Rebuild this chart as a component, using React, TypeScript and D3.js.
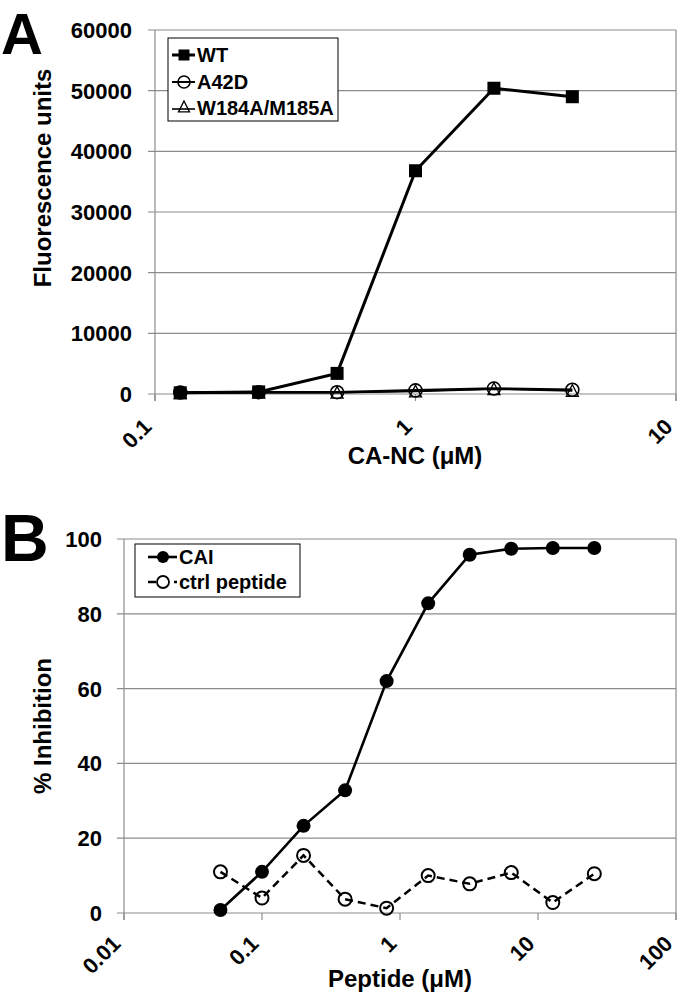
import React from "react";
import * as d3 from "d3";

// Panel A data
const aConc = [0.125, 0.25, 0.5, 1, 2, 4];
const wtVals = [200, 350, 3400, 36800, 50400, 49000];
const a42dVals = [250, 300, 300, 600, 900, 700];
const w184Vals = [150, 200, 200, 400, 800, 500];
const aYTicks = [0, 10000, 20000, 30000, 40000, 50000, 60000];
const aXTicks = [0.1, 1, 10];

// Panel B data
const bConc = [0.05, 0.1, 0.2, 0.4, 0.8, 1.6, 3.2, 6.4, 12.8, 25.6];
const caiVals = [0.8, 11, 23.3, 32.8, 62, 82.8, 95.8, 97.4, 97.6, 97.6];
const ctrlVals = [11, 4, 15.4, 3.7, 1.3, 10, 7.8, 10.8, 2.8, 10.5];
const bYTicks = [0, 20, 40, 60, 80, 100];
const bXTicks = [0.01, 0.1, 1, 10, 100];

const FONT = "'Liberation Sans', Arial, Helvetica, sans-serif";
const GRID = "#8c8c8c";

function fmtTick(v: number) {
  return String(v);
}

function Panel(props: {
  x: d3.ScaleLogarithmic<number, number>;
  y: d3.ScaleLinear<number, number>;
  xTicks: number[];
  yTicks: number[];
  yLabelRight: number;
  tickFont: number;
  xLabDy: number;
}) {
  const { x, y, xTicks, yTicks, yLabelRight, tickFont, xLabDy } = props;
  const [x0, x1] = x.range();
  const [y0, y1] = y.range();
  return (
    <g>
      {yTicks.map((t) => (
        <g key={"gy" + t}>
          <line x1={x0 - 7} x2={x1} y1={y(t)} y2={y(t)} stroke={GRID} strokeWidth={1.2} />
          <text
            x={yLabelRight}
            y={y(t) + tickFont * 0.36}
            textAnchor="end"
            fontFamily={FONT}
            fontWeight="bold"
            fontSize={tickFont}
          >
            {fmtTick(t)}
          </text>
        </g>
      ))}
      <line x1={x0} x2={x0} y1={y1} y2={y0 + 7} stroke={GRID} strokeWidth={1.2} />
      <line x1={x1} x2={x1} y1={y1} y2={y0 + 7} stroke={GRID} strokeWidth={1.2} />
      {xTicks.map((t) => (
        <g key={"gx" + t}>
          <line x1={x(t)} x2={x(t)} y1={y0} y2={y0 + 7} stroke={GRID} strokeWidth={1.2} />
          <text
            transform={`translate(${x(t) - 2},${y0 + xLabDy}) rotate(-45)`}
            textAnchor="end"
            fontFamily={FONT}
            fontWeight="bold"
            fontSize={tickFont}
          >
            {fmtTick(t)}
          </text>
        </g>
      ))}
    </g>
  );
}

function Square({ cx, cy, s }: { cx: number; cy: number; s: number }) {
  return <rect x={cx - s / 2} y={cy - s / 2} width={s} height={s} fill="#000" />;
}
function OpenCircle({ cx, cy, r }: { cx: number; cy: number; r: number }) {
  return <circle cx={cx} cy={cy} r={r} fill="none" stroke="#000" strokeWidth={1.6} />;
}
function Triangle({ cx, cy, s }: { cx: number; cy: number; s: number }) {
  const h = s * 0.9;
  const p = `M${cx},${cy - h / 2 - 1} L${cx + s / 2},${cy + h / 2} L${cx - s / 2},${cy + h / 2} Z`;
  return <path d={p} fill="none" stroke="#000" strokeWidth={1.3} />;
}

export default function App() {
  // Panel A scales
  const ax = d3.scaleLog().domain([0.1, 10]).range([155, 676]);
  const ay = d3.scaleLinear().domain([0, 60000]).range([394, 30]);
  // Panel B scales
  const bx = d3.scaleLog().domain([0.01, 100]).range([124, 676]);
  const by = d3.scaleLinear().domain([0, 100]).range([913, 539]);

  const lineA = d3
    .line<[number, number]>()
    .x((d) => ax(d[0]))
    .y((d) => ay(d[1]));
  const lineB = d3
    .line<[number, number]>()
    .x((d) => bx(d[0]))
    .y((d) => by(d[1]));

  const zip = (xs: number[], ys: number[]) => xs.map((v, i) => [v, ys[i]] as [number, number]);

  return (
    <svg width={680} height={996} style={{ position: "absolute", left: 0, top: 0, background: "#fff" }}>
      <rect width={680} height={996} fill="#fff" />
      {/* Panel letters */}
      <text x={1} y={54} fontFamily={FONT} fontWeight="bold" fontSize={58}>A</text>
      <text x={1} y={561} fontFamily={FONT} fontWeight="bold" fontSize={66}>B</text>

      {/* ===== Panel A ===== */}
      <Panel x={ax} y={ay} xTicks={aXTicks} yTicks={aYTicks} yLabelRight={132} tickFont={22} xLabDy={34} />
      <text
        transform={`translate(51,178) rotate(-90)`}
        textAnchor="middle"
        fontFamily={FONT}
        fontWeight="bold"
        fontSize={24}
      >
        Fluorescence units
      </text>
      <text x={415} y={464} textAnchor="middle" fontFamily={FONT} fontWeight="bold" fontSize={24}>
        CA-NC (μM)
      </text>

      <path d={lineA(zip(aConc, w184Vals)) || ""} fill="none" stroke="#000" strokeWidth={1.6} />
      <path d={lineA(zip(aConc, a42dVals)) || ""} fill="none" stroke="#000" strokeWidth={2.6} />
      {aConc.map((c, i) => (
        <Triangle key={"t" + i} cx={ax(c)} cy={ay(w184Vals[i])} s={12} />
      ))}
      {aConc.map((c, i) => (
        <OpenCircle key={"c" + i} cx={ax(c)} cy={ay(a42dVals[i])} r={6.5} />
      ))}
      <path d={lineA(zip(aConc, wtVals)) || ""} fill="none" stroke="#000" strokeWidth={3} />
      {aConc.map((c, i) => (
        <Square key={"s" + i} cx={ax(c)} cy={ay(wtVals[i])} s={13} />
      ))}

      {/* Legend A */}
      <rect x={168} y={38} width={170} height={83} fill="#fff" stroke="#000" strokeWidth={1} />
      <line x1={172} x2={195} y1={55} y2={55} stroke="#000" strokeWidth={3} />
      <Square cx={184} cy={55} s={11} />
      <text x={197} y={62} fontFamily={FONT} fontWeight="bold" fontSize={20}>WT</text>
      <line x1={172} x2={195} y1={82} y2={82} stroke="#000" strokeWidth={2} />
      <OpenCircle cx={184} cy={82} r={6} />
      <text x={197} y={89} fontFamily={FONT} fontWeight="bold" fontSize={20}>A42D</text>
      <line x1={172} x2={195} y1={109} y2={109} stroke="#000" strokeWidth={1.6} />
      <Triangle cx={184} cy={107} s={11} />
      <text x={197} y={115} fontFamily={FONT} fontWeight="bold" fontSize={20}>W184A/M185A</text>

      {/* ===== Panel B ===== */}
      <Panel x={bx} y={by} xTicks={bXTicks} yTicks={bYTicks} yLabelRight={102} tickFont={22} xLabDy={32} />
      <text
        transform={`translate(51,${(539 + 913) / 2}) rotate(-90)`}
        textAnchor="middle"
        fontFamily={FONT}
        fontWeight="bold"
        fontSize={24}
      >
        % Inhibition
      </text>
      <text x={400} y={987} textAnchor="middle" fontFamily={FONT} fontWeight="bold" fontSize={24}>
        Peptide (μM)
      </text>

      <path
        d={lineB(zip(bConc, ctrlVals)) || ""}
        fill="none"
        stroke="#000"
        strokeWidth={2.5}
        strokeDasharray="8,5"
      />
      {bConc.map((c, i) => (
        <circle key={"oc" + i} cx={bx(c)} cy={by(ctrlVals[i])} r={6.5} fill="none" stroke="#000" strokeWidth={2} />
      ))}
      <path d={lineB(zip(bConc, caiVals)) || ""} fill="none" stroke="#000" strokeWidth={2.6} />
      {bConc.map((c, i) => (
        <circle key={"fc" + i} cx={bx(c)} cy={by(caiVals[i])} r={7} fill="#000" />
      ))}

      {/* Legend B */}
      <rect x={135} y={544} width={165} height={53} fill="#fff" stroke="#000" strokeWidth={1} />
      <line x1={148} x2={177} y1={557} y2={557} stroke="#000" strokeWidth={2.6} />
      <circle cx={163} cy={557} r={6} fill="#000" />
      <text x={179} y={564} fontFamily={FONT} fontWeight="bold" fontSize={20}>CAI</text>
      <line x1={148} x2={177} y1={582} y2={582} stroke="#000" strokeWidth={2.5} strokeDasharray="8,5" />
      <circle cx={163} cy={582} r={6} fill="#fff" stroke="#000" strokeWidth={1.8} />
      <text x={179} y={589} fontFamily={FONT} fontWeight="bold" fontSize={20}>ctrl peptide</text>
    </svg>
  );
}
